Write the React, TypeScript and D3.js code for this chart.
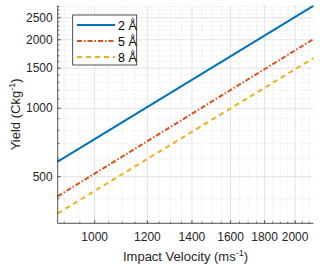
import { useEffect } from 'react'
import * as d3 from 'd3'

const velocity = [880, 2130]
const yield2A = [582, 2820]
const yield5A = [410, 2012]
const yield8A = [345, 1660]
const seriesNames = ['2 Å', '5 Å', '8 Å']
const xTicks = [1000, 1200, 1400, 1600, 1800, 2000]
const yTicks = [500, 1000, 1500, 2000, 2500]

const colors = ['#0072BD', '#D95319', '#EDB120']
const dashes = ['none', '5 2 1.5 2', '5 4']

const width = 320
const height = 270
const margin = { top: 5.5, right: 6.7, bottom: 46.7, left: 57.7 }
const font = '"Liberation Sans", Arial, Helvetica, sans-serif'

export default function App() {
  useEffect(() => {
    document.body.style.margin = '0'
  }, [])

  const x = d3.scaleLog().domain([880, 2130]).range([margin.left, width - margin.right])
  const y = d3.scaleLog().domain([312, 2830]).range([height - margin.bottom, margin.top])

  const [x0, x1] = x.range()
  const [y0, y1] = y.range()

  const xMinor = d3.range(900, 2130, 50).filter(v => v % 200 !== 0)
  const yMinor = d3.range(400, 2830, 100).filter(v => v % 500 !== 0)

  const line = d3.line<[number, number]>()
    .x(d => x(d[0]))
    .y(d => y(d[1]))

  const series = [yield2A, yield5A, yield8A].map(vals =>
    velocity.map((v, i) => [v, vals[i]] as [number, number])
  )

  const axisColor = '#262626'

  return (
    <svg width={width} height={height} style={{ display: 'block', fontFamily: font }}>
      <rect x={0} y={0} width={width} height={height} fill="#fff" />
      {/* minor grid */}
      {xMinor.map(v => (
        <line key={'xm' + v} x1={x(v)} x2={x(v)} y1={y0} y2={y1}
          stroke="#cfcfcf" strokeWidth={0.6} strokeDasharray="1 2" />
      ))}
      {yMinor.map(v => (
        <line key={'ym' + v} x1={x0} x2={x1} y1={y(v)} y2={y(v)}
          stroke="#cfcfcf" strokeWidth={0.6} strokeDasharray="1 2" />
      ))}
      {/* major grid */}
      {xTicks.map(v => (
        <line key={'xg' + v} x1={x(v)} x2={x(v)} y1={y0} y2={y1}
          stroke="#e3e3e3" strokeWidth={1} />
      ))}
      {yTicks.map(v => (
        <line key={'yg' + v} x1={x0} x2={x1} y1={y(v)} y2={y(v)}
          stroke="#e3e3e3" strokeWidth={1} />
      ))}
      {/* data lines */}
      {series.map((s, i) => (
        <path key={'s' + i} d={line(s) || ''} fill="none" stroke={colors[i]}
          strokeWidth={2} strokeDasharray={dashes[i]} />
      ))}
      {/* axes */}
      <line x1={x0} x2={x1} y1={y0} y2={y0} stroke={axisColor} strokeWidth={0.8} />
      <line x1={x0} x2={x0} y1={y0} y2={y1} stroke={axisColor} strokeWidth={0.8} />
      {xTicks.map(v => (
        <line key={'xt' + v} x1={x(v)} x2={x(v)} y1={y0} y2={y0 - 3} stroke={axisColor} strokeWidth={0.8} />
      ))}
      {xMinor.map(v => (
        <line key={'xtm' + v} x1={x(v)} x2={x(v)} y1={y0} y2={y0 - 1.8} stroke={axisColor} strokeWidth={0.6} />
      ))}
      {yTicks.map(v => (
        <line key={'yt' + v} x1={x0} x2={x0 + 3} y1={y(v)} y2={y(v)} stroke={axisColor} strokeWidth={0.8} />
      ))}
      {yMinor.map(v => (
        <line key={'ytm' + v} x1={x0} x2={x0 + 1.8} y1={y(v)} y2={y(v)} stroke={axisColor} strokeWidth={0.6} />
      ))}
      {xTicks.map(v => (
        <text key={'xl' + v} x={x(v)} y={241} textAnchor="middle" fontSize={12} fill={axisColor}>{v}</text>
      ))}
      {yTicks.map(v => (
        <text key={'yl' + v} x={x0 - 5} y={y(v) + 4.2} textAnchor="end" fontSize={12} fill={axisColor}>{v}</text>
      ))}
      <text x={(x0 + x1) / 2} y={261} textAnchor="middle" fontSize={13} fill={axisColor}>
        Impact Velocity (ms<tspan dy={-5} fontSize={9}>-1</tspan><tspan dy={5}>)</tspan>
      </text>
      <text transform={`translate(20, ${(y0 + y1) / 2}) rotate(-90)`} textAnchor="middle" fontSize={13} fill={axisColor}>
        Yield (Ckg<tspan dy={-5} fontSize={9}>-1</tspan><tspan dy={5}>)</tspan>
      </text>
      {/* legend */}
      <rect x={72.7} y={15} width={64} height={50} fill="#fff" stroke={axisColor} strokeWidth={0.8} />
      {seriesNames.map((name, i) => {
        const ly = 25 + i * 16
        return (
          <g key={'lg' + i}>
            <line x1={77} x2={115} y1={ly} y2={ly} stroke={colors[i]} strokeWidth={2} strokeDasharray={dashes[i]} />
            <text x={118} y={ly + 4.5} fontSize={12.5} fill="#000">{name}</text>
          </g>
        )
      })}
    </svg>
  )
}
